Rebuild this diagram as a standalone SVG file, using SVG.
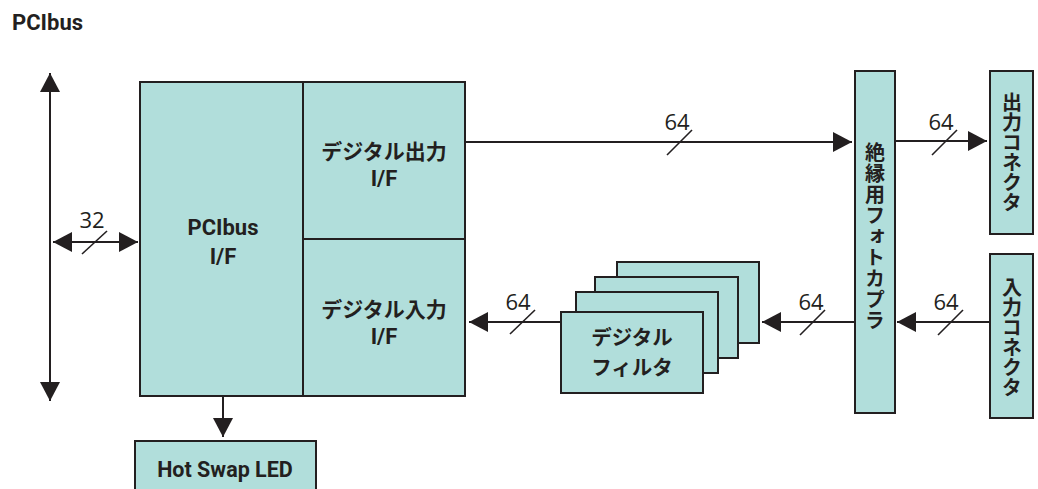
<svg xmlns="http://www.w3.org/2000/svg" width="1038" height="489" viewBox="0 0 1038 489">
<style>
.box{fill:#b1dedb;stroke:#231f20;stroke-width:2}
.ln{fill:none;stroke:#231f20;stroke-width:2}
.sl{fill:none;stroke:#231f20;stroke-width:1.6}
.t{font-family:Roboto,"Noto Sans CJK JP",sans-serif;font-weight:bold;font-size:22px;fill:#231f20;text-anchor:middle}
.j{font-family:"Noto Sans CJK JP",sans-serif;font-weight:bold;font-size:21px;fill:#231f20;text-anchor:middle}
.v{font-family:"Noto Sans CJK JP",sans-serif;font-weight:bold;font-size:20px;fill:#231f20;writing-mode:vertical-rl}
.n{font-family:"Open Sans","Liberation Sans",sans-serif;font-size:22px;fill:#231f20;text-anchor:middle}
</style>
<defs>
<marker id="ah" markerUnits="userSpaceOnUse" markerWidth="20" markerHeight="20" viewBox="0 0 19 20" refX="19" refY="10" orient="auto-start-reverse">
<path d="M0,0 L19,10 L0,20 z" fill="#231f20"/>
</marker>
</defs>
<rect width="1038" height="489" fill="#ffffff"/>
<text x="12" y="30" class="t" style="text-anchor:start">PCIbus</text>

<g id="main-if">
<rect class="box" x="140" y="82" width="325" height="314"/>
<line class="ln" x1="303" y1="82" x2="303" y2="396"/>
<line class="ln" x1="303" y1="239" x2="465" y2="239"/>
</g>
<g id="pcibus-if">
<text class="t" x="223" y="235">PCIbus</text>
<text class="t" x="223" y="264">I/F</text>
</g>
<g id="dout-if">
<text class="j" x="384" y="159">デジタル出力</text>
<text class="t" x="384" y="186">I/F</text>
</g>
<g id="din-if">
<text class="j" x="384" y="317">デジタル入力</text>
<text class="t" x="384" y="344">I/F</text>
</g>
<g id="hotswap">
<rect class="box" x="135" y="441" width="181" height="60"/>
<text class="t" x="225" y="477" style="font-size:21.5px">Hot Swap LED</text>
</g>
<g id="filter">
<rect class="box" x="617" y="262" width="142" height="81"/>
<rect class="box" x="595" y="277" width="143" height="81"/>
<rect class="box" x="576" y="292" width="142" height="81"/>
<rect class="box" x="561" y="312" width="142" height="81"/>
<text class="j" x="632" y="345" style="font-size:20.5px">デジタル</text>
<text class="j" x="632" y="375" style="font-size:20.5px">フィルタ</text>
</g>
<g id="photocoupler">
<rect class="box" x="855" y="71" width="40" height="342"/>
<text class="v" x="875" y="142" style="letter-spacing:1px">絶縁用フォトカプラ</text>
</g>
<g id="out-conn">
<rect class="box" x="990" y="71" width="43" height="163"/>
<text class="v" x="1012" y="92">出力コネクタ</text>
</g>
<g id="in-conn">
<rect class="box" x="990" y="254" width="43" height="164"/>
<text class="v" x="1012" y="277">入力コネクタ</text>
</g>

<g id="connectors">
<line class="ln" x1="50" y1="73" x2="50" y2="401" marker-start="url(#ah)" marker-end="url(#ah)"/>
<line class="ln" x1="53" y1="242" x2="138" y2="242" marker-start="url(#ah)" marker-end="url(#ah)"/>
<line class="sl" x1="82" y1="254" x2="107" y2="231"/>
<text class="n" x="92" y="228">32</text>

<line class="ln" x1="223" y1="396" x2="223" y2="437" marker-end="url(#ah)"/>

<line class="ln" x1="465" y1="142" x2="852" y2="142" marker-end="url(#ah)"/>
<line class="sl" x1="667" y1="155" x2="692" y2="130"/>
<text class="n" x="677" y="130">64</text>

<line class="ln" x1="895" y1="141" x2="987" y2="141" marker-end="url(#ah)"/>
<line class="sl" x1="932" y1="155" x2="957" y2="130"/>
<text class="n" x="941" y="130">64</text>

<line class="ln" x1="990" y1="322" x2="897" y2="322" marker-end="url(#ah)"/>
<line class="sl" x1="938" y1="335" x2="963" y2="310"/>
<text class="n" x="946" y="310">64</text>

<line class="ln" x1="855" y1="322" x2="762" y2="322" marker-end="url(#ah)"/>
<line class="sl" x1="800" y1="335" x2="825" y2="310"/>
<text class="n" x="811" y="310">64</text>

<line class="ln" x1="561" y1="322" x2="469" y2="322" marker-end="url(#ah)"/>
<line class="sl" x1="510" y1="334" x2="535" y2="310"/>
<text class="n" x="518" y="310">64</text>
</g>
</svg>
